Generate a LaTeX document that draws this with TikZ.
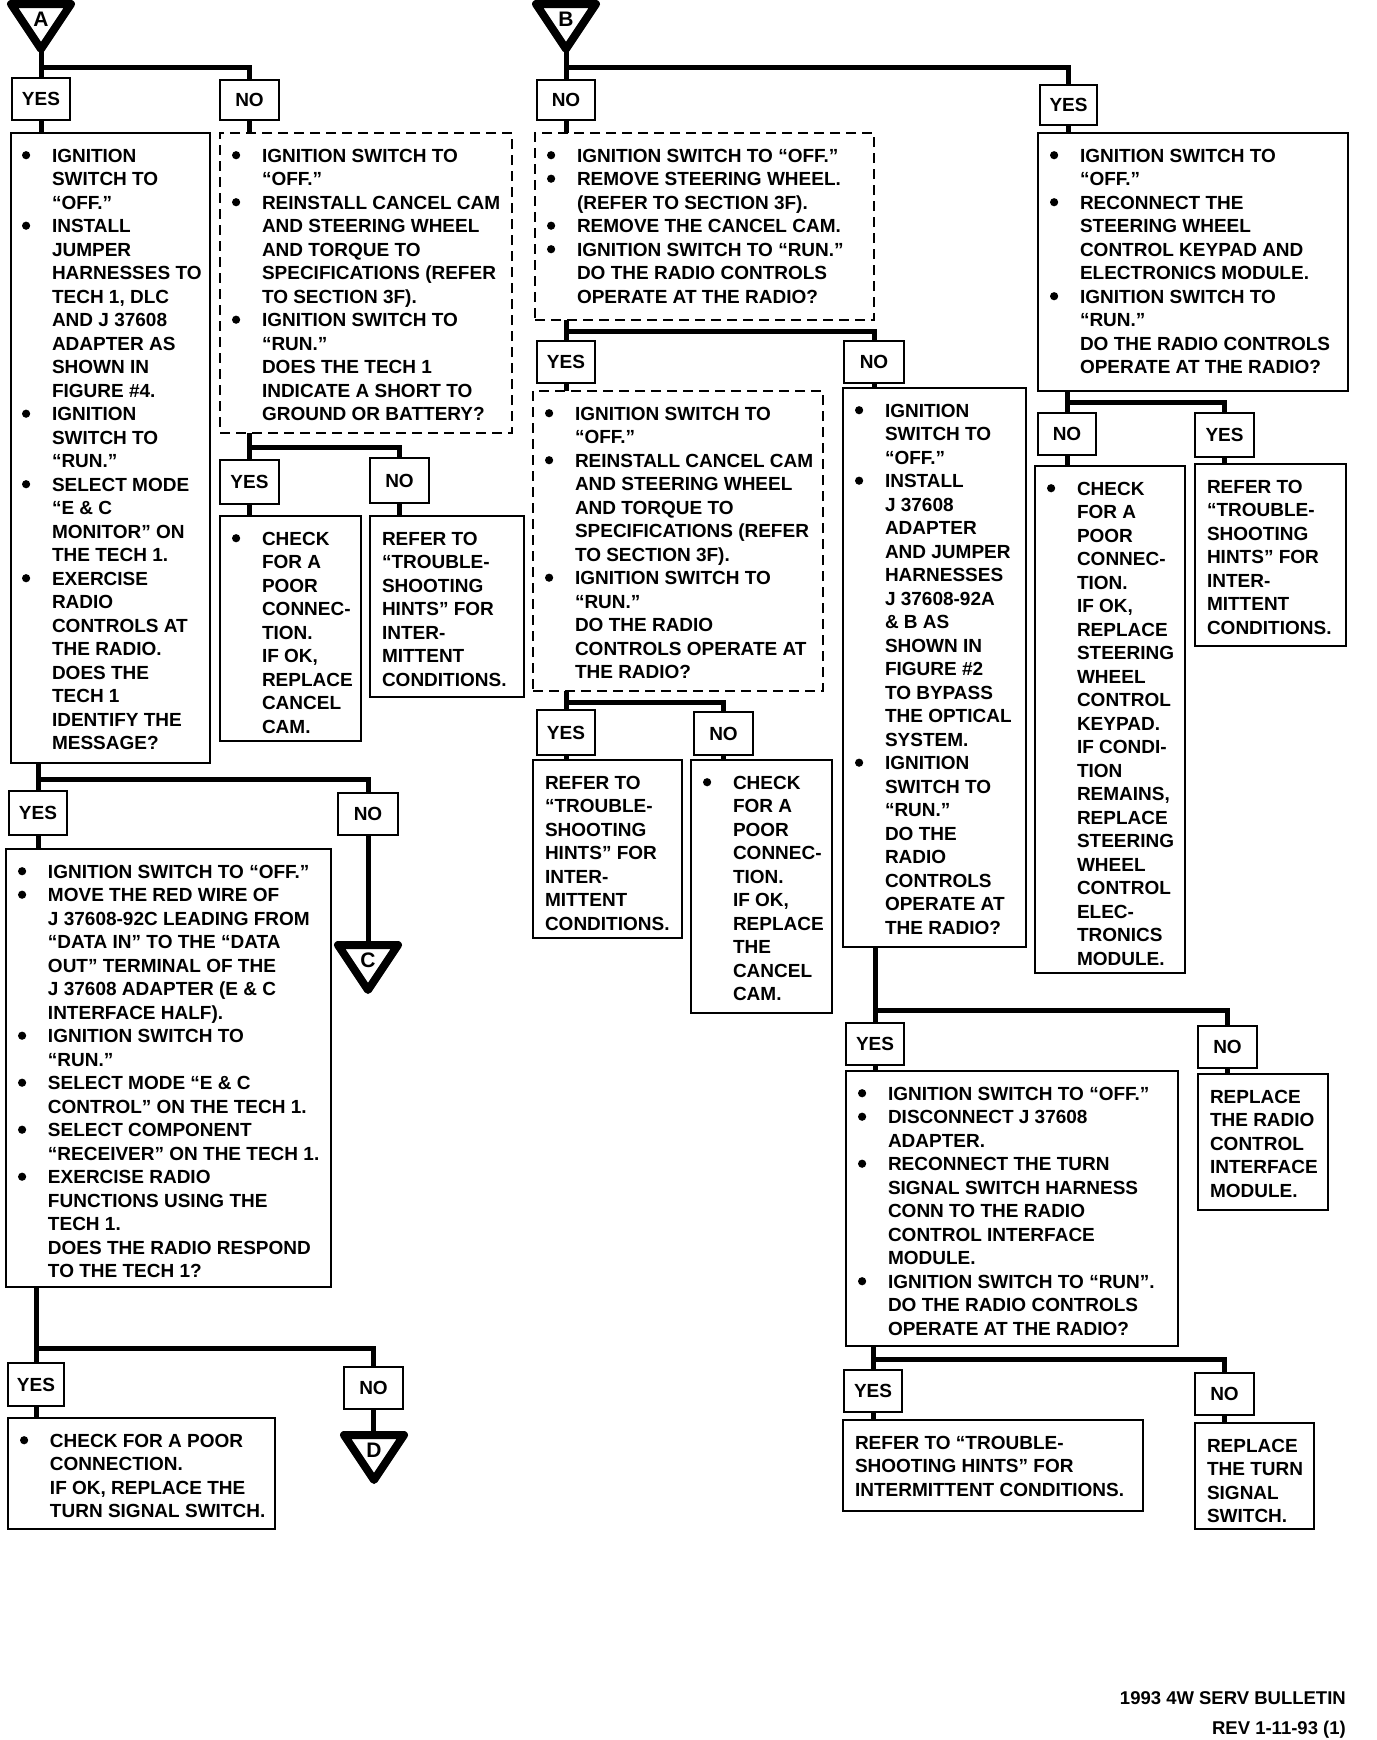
\documentclass[tikz,border=0pt]{standalone}
\usepackage{fontspec}
\setmainfont{Liberation Sans}
\newlength\bw \setlength\bw{32pt}
\newcommand\bu{\makebox[\bw][l]{\hspace{2pt}\tikz[baseline=0pt,x=1pt,y=1pt]\fill[black] (4,6.8) circle (4.1);}}
\newcommand\nb{\hspace*{\bw}}
\tikzset{
 box/.style={draw, line width=2.8pt, inner sep=0pt, outer sep=0pt, rectangle},
 dbox/.style={box, line width=2.3pt, dash pattern=on 10pt off 6pt},
 lbl/.style={box, font=\bfseries\fontsize{19}{23.5}\selectfont},
 txt/.style={inner sep=0pt, outer sep=0pt, anchor=base west, font=\bfseries\fontsize{19}{23.5}\selectfont},
 conn/.style={line width=5pt},
 tri/.style={line width=8pt, line join=round},
 trilet/.style={inner sep=0pt, font=\bfseries\fontsize{21}{21}\selectfont},
 foot/.style={inner sep=0pt, anchor=base east, font=\bfseries\fontsize{18.5}{22}\selectfont}
}
% \mkbox[style]{name}{x1}{y1}{x2}{y2}
\newcommand\mkbox[6][box]{\node[#1,minimum width={(#5-#3)*1pt},minimum height={(#6-#4)*1pt}] (#2) at ({(#3+#5)/2},{-(#4+#6)/2}) {};}
% \mklbl{name}{x1}{y1}{x2}{y2}{text}
\newcommand\mklbl[6]{\node[lbl,minimum width={(#4-#2)*1pt},minimum height={(#5-#3)*1pt}] (#1) at ({(#2+#4)/2},{-(#3+#5)/2}) {#6};}
% \mktxt{name}{box}{xoff}{lines}
\newcommand\mktxt[4]{\node[txt] (#1) at ([xshift=#3pt,yshift=-29pt]#2.north west) {\begin{tabular}[t]{@{}l@{}}#4\end{tabular}};}
% \mktri{name}{cx}{top}{letter}
\newcommand\mktri[4]{%
 \draw[tri] ({#2-30},{-(#3+4)}) -- ({#2+30},{-(#3+4)}) -- ({#2},{-(#3+49)}) -- cycle;
 \coordinate (#1top) at ({#2},{-(#3)});
 \coordinate (#1apex) at ({#2},{-(#3+49)});
 \node[trilet] (#1) at ({#2},{-(#3+19)}) {#4};}
\begin{document}
\begin{tikzpicture}[x=1pt,y=1pt]
\fill[white] (0,0) rectangle (1376,-1740);
\useasboundingbox (0,0) rectangle (1376,-1740);

% ---------------- column A ----------------
\mktri{triA}{41}{0}{A}
\coordinate (jA1) at (0,-67);
\mklbl{yesA1}{12}{78}{70}{120}{YES}
\mklbl{noA1}{220}{80}{279}{120}{NO}
\mkbox{boxA1}{11}{133}{210}{763}
\mkbox[dbox]{dashA}{220}{133}{512}{433}
\coordinate (jA2) at (0,-447);
\mklbl{yesA2}{220}{460}{279}{504}{YES}
\mklbl{noA2}{370}{458}{429}{503}{NO}
\mkbox{chkA}{220}{516}{361}{741}
\mkbox{refA}{370}{516}{524}{697}
\coordinate (jA3) at (0,-779);
\mklbl{yesA3}{9}{791}{67}{835}{YES}
\mklbl{noA3}{338}{793}{398}{835}{NO}
\mktri{triC}{368}{941}{C}
\mkbox{boxA2}{6}{849}{331}{1287}
\coordinate (jA4) at (0,-1348);
\mklbl{yesA4}{8}{1363}{64}{1406}{YES}
\mklbl{noA4}{344}{1367}{403}{1409}{NO}
\mktri{triD}{374}{1431}{D}
\mkbox{boxA3}{8}{1418}{275}{1529}

% ---------------- column B ----------------
\mktri{triB}{566}{0}{B}
\coordinate (jB1) at (0,-67);
\mklbl{noB1}{537}{80}{595}{120}{NO}
\mklbl{yesB1}{1040}{85}{1097}{125}{YES}
\mkbox[dbox]{dashB}{535}{133}{874}{320}
\mkbox{boxBY}{1038}{133}{1348}{391}
\coordinate (jB2) at (0,-331);
\mklbl{yesB2}{537}{341}{595}{383}{YES}
\mklbl{noB2}{844}{341}{904}{383}{NO}
\mkbox[dbox]{dashB2}{533}{391}{823}{691}
\mkbox{boxB3}{843}{388}{1026}{947}
\coordinate (jB3) at (0,-702);
\mklbl{yesB3}{537}{710}{595}{755}{YES}
\mklbl{noB3}{694}{712}{753}{755}{NO}
\mkbox{refB}{533}{760}{682}{938}
\mkbox{chkB}{691}{760}{832}{1013}
\coordinate (jB4) at (0,-1010);
\mklbl{yesB4}{846}{1023}{904}{1065}{YES}
\mklbl{noB4}{1198}{1026}{1257}{1068}{NO}
\mkbox{boxB4}{846}{1071}{1178}{1346}
\mkbox{repRC}{1198}{1074}{1328}{1210}
\coordinate (jB5) at (0,-1359);
\mklbl{yesB5}{844}{1370}{902}{1412}{YES}
\mklbl{noB5}{1195}{1373}{1254}{1415}{NO}
\mkbox{refB5}{843}{1420}{1143}{1511}
\mkbox{repTS}{1195}{1423}{1314}{1529}
\coordinate (jBY) at (0,-402);
\mklbl{noBY}{1038}{413}{1096}{455}{NO}
\mklbl{yesBY}{1195}{413}{1254}{457}{YES}
\mkbox{chkBY}{1035}{466}{1185}{973}
\mkbox{refBY}{1195}{464}{1346}{646}

% ---------------- texts ----------------
\mktxt{tA1}{boxA1}{9}{\bu IGNITION\\ \nb SWITCH TO\\ \nb “OFF.”\\ \bu INSTALL\\ \nb JUMPER\\ \nb HARNESSES TO\\ \nb TECH 1, DLC\\ \nb AND J 37608\\ \nb ADAPTER AS\\ \nb SHOWN IN\\ \nb FIGURE \#4.\\ \bu IGNITION\\ \nb SWITCH TO\\ \nb “RUN.”\\ \bu SELECT MODE\\ \nb “E \& C\\ \nb MONITOR” ON\\ \nb THE TECH 1.\\ \bu EXERCISE\\ \nb RADIO\\ \nb CONTROLS AT\\ \nb THE RADIO.\\ \nb DOES THE\\ \nb TECH 1\\ \nb IDENTIFY THE\\ \nb MESSAGE?}
\mktxt{tdashA}{dashA}{10}{\bu IGNITION SWITCH TO\\ \nb “OFF.”\\ \bu REINSTALL CANCEL CAM\\ \nb AND STEERING WHEEL\\ \nb AND TORQUE TO\\ \nb SPECIFICATIONS (REFER\\ \nb TO SECTION 3F).\\ \bu IGNITION SWITCH TO\\ \nb “RUN.”\\ \nb DOES THE TECH 1\\ \nb INDICATE A SHORT TO\\ \nb GROUND OR BATTERY?}
\mktxt{tchkA}{chkA}{10}{\bu CHECK\\ \nb FOR A\\ \nb POOR\\ \nb CONNEC-\\ \nb TION.\\ \nb IF OK,\\ \nb REPLACE\\ \nb CANCEL\\ \nb CAM.}
\mktxt{trefA}{refA}{12}{REFER TO\\ “TROUBLE-\\ SHOOTING\\ HINTS” FOR\\ INTER-\\ MITTENT\\ CONDITIONS.}
\mktxt{tA2}{boxA2}{10}{\bu IGNITION SWITCH TO “OFF.”\\ \bu MOVE THE RED WIRE OF\\ \nb J 37608-92C LEADING FROM\\ \nb “DATA IN” TO THE “DATA\\ \nb OUT” TERMINAL OF THE\\ \nb J 37608 ADAPTER (E \& C\\ \nb INTERFACE HALF).\\ \bu IGNITION SWITCH TO\\ \nb “RUN.”\\ \bu SELECT MODE “E \& C\\ \nb CONTROL” ON THE TECH 1.\\ \bu SELECT COMPONENT\\ \nb “RECEIVER” ON THE TECH 1.\\ \bu EXERCISE RADIO\\ \nb FUNCTIONS USING THE\\ \nb TECH 1.\\ \nb DOES THE RADIO RESPOND\\ \nb TO THE TECH 1?}
\mktxt{tA3}{boxA3}{10}{\bu CHECK FOR A POOR\\ \nb CONNECTION.\\ \nb IF OK, REPLACE THE\\ \nb TURN SIGNAL SWITCH.}
\mktxt{tdashB}{dashB}{10}{\bu IGNITION SWITCH TO “OFF.”\\ \bu REMOVE STEERING WHEEL.\\ \nb (REFER TO SECTION 3F).\\ \bu REMOVE THE CANCEL CAM.\\ \bu IGNITION SWITCH TO “RUN.”\\ \nb DO THE RADIO CONTROLS\\ \nb OPERATE AT THE RADIO?}
\mktxt{tBY}{boxBY}{10}{\bu IGNITION SWITCH TO\\ \nb “OFF.”\\ \bu RECONNECT THE\\ \nb STEERING WHEEL\\ \nb CONTROL KEYPAD AND\\ \nb ELECTRONICS MODULE.\\ \bu IGNITION SWITCH TO\\ \nb “RUN.”\\ \nb DO THE RADIO CONTROLS\\ \nb OPERATE AT THE RADIO?}
\mktxt{tdashB2}{dashB2}{10}{\bu IGNITION SWITCH TO\\ \nb “OFF.”\\ \bu REINSTALL CANCEL CAM\\ \nb AND STEERING WHEEL\\ \nb AND TORQUE TO\\ \nb SPECIFICATIONS (REFER\\ \nb TO SECTION 3F).\\ \bu IGNITION SWITCH TO\\ \nb “RUN.”\\ \nb DO THE RADIO\\ \nb CONTROLS OPERATE AT\\ \nb THE RADIO?}
\mktxt{tB3}{boxB3}{10}{\bu IGNITION\\ \nb SWITCH TO\\ \nb “OFF.”\\ \bu INSTALL\\ \nb J 37608\\ \nb ADAPTER\\ \nb AND JUMPER\\ \nb HARNESSES\\ \nb J 37608-92A\\ \nb \& B AS\\ \nb SHOWN IN\\ \nb FIGURE \#2\\ \nb TO BYPASS\\ \nb THE OPTICAL\\ \nb SYSTEM.\\ \bu IGNITION\\ \nb SWITCH TO\\ \nb “RUN.”\\ \nb DO THE\\ \nb RADIO\\ \nb CONTROLS\\ \nb OPERATE AT\\ \nb THE RADIO?}
\mktxt{trefB}{refB}{12}{REFER TO\\ “TROUBLE-\\ SHOOTING\\ HINTS” FOR\\ INTER-\\ MITTENT\\ CONDITIONS.}
\mktxt{tchkB}{chkB}{10}{\bu CHECK\\ \nb FOR A\\ \nb POOR\\ \nb CONNEC-\\ \nb TION.\\ \nb IF OK,\\ \nb REPLACE\\ \nb THE\\ \nb CANCEL\\ \nb CAM.}
\mktxt{tchkBY}{chkBY}{10}{\bu CHECK\\ \nb FOR A\\ \nb POOR\\ \nb CONNEC-\\ \nb TION.\\ \nb IF OK,\\ \nb REPLACE\\ \nb STEERING\\ \nb WHEEL\\ \nb CONTROL\\ \nb KEYPAD.\\ \nb IF CONDI-\\ \nb TION\\ \nb REMAINS,\\ \nb REPLACE\\ \nb STEERING\\ \nb WHEEL\\ \nb CONTROL\\ \nb ELEC-\\ \nb TRONICS\\ \nb MODULE.}
\mktxt{trefBY}{refBY}{12}{REFER TO\\ “TROUBLE-\\ SHOOTING\\ HINTS” FOR\\ INTER-\\ MITTENT\\ CONDITIONS.}
\mktxt{tB4}{boxB4}{10}{\bu IGNITION SWITCH TO “OFF.”\\ \bu DISCONNECT J 37608\\ \nb ADAPTER.\\ \bu RECONNECT THE TURN\\ \nb SIGNAL SWITCH HARNESS\\ \nb CONN TO THE RADIO\\ \nb CONTROL INTERFACE\\ \nb MODULE.\\ \bu IGNITION SWITCH TO “RUN”.\\ \nb DO THE RADIO CONTROLS\\ \nb OPERATE AT THE RADIO?}
\mktxt{trepRC}{repRC}{12}{REPLACE\\ THE RADIO\\ CONTROL\\ INTERFACE\\ MODULE.}
\mktxt{trefB5}{refB5}{12}{REFER TO “TROUBLE-\\ SHOOTING HINTS” FOR\\ INTERMITTENT CONDITIONS.}
\mktxt{trepTS}{repTS}{12}{REPLACE\\ THE TURN\\ SIGNAL\\ SWITCH.}

\node[foot] (ft1) at (1346,-1704) {1993 4W SERV BULLETIN};
\node[foot] (ft2) at (1346,-1734) {REV 1-11-93 (1)};

% ---------------- connectors A ----------------
\draw[conn] (triAapex) -- (yesA1.north);
\draw[conn] (jA1 -| triAapex) -| (noA1.north);
\draw[conn] (yesA1.south) -- (boxA1.north -| yesA1.south);
\draw[conn] (noA1.south) -- (dashA.north -| noA1.south);
\draw[conn] (dashA.south -| yesA2.north) -- (yesA2.north);
\draw[conn] (jA2 -| yesA2.north) -| (noA2.north);
\draw[conn] (yesA2.south) -- (chkA.north -| yesA2.south);
\draw[conn] (noA2.south) -- (refA.north -| noA2.south);
\draw[conn] (boxA1.south -| yesA3.north) -- (yesA3.north);
\draw[conn] (jA3 -| yesA3.north) -| (noA3.north);
\draw[conn] (yesA3.south) -- (boxA2.north -| yesA3.south);
\draw[conn] (noA3.south) -- (noA3.south |- triCtop);
\draw[conn] (boxA2.south -| yesA4.north) -- (yesA4.north);
\draw[conn] (jA4 -| yesA4.north) -| (noA4.north);
\draw[conn] (yesA4.south) -- (boxA3.north -| yesA4.south);
\draw[conn] (noA4.south) -- (noA4.south |- triDtop);

% ---------------- connectors B ----------------
\draw[conn] (triBapex) -- (noB1.north);
\draw[conn] (jB1 -| triBapex) -| (yesB1.north);
\draw[conn] (noB1.south) -- (dashB.north -| noB1.south);
\draw[conn] (yesB1.south) -- (boxBY.north -| yesB1.south);
\draw[conn] (dashB.south -| yesB2.north) -- (yesB2.north);
\draw[conn] (jB2 -| yesB2.north) -| (noB2.north);
\draw[conn] (yesB2.south) -- (dashB2.north -| yesB2.south);
\draw[conn] (noB2.south) -- (boxB3.north -| noB2.south);
\draw[conn] (dashB2.south -| yesB3.north) -- (yesB3.north);
\draw[conn] (jB3 -| yesB3.north) -| (noB3.north);
\draw[conn] (yesB3.south) -- (refB.north -| yesB3.south);
\draw[conn] (noB3.south) -- (chkB.north -| noB3.south);
\draw[conn] (boxB3.south -| yesB4.north) -- (yesB4.north);
\draw[conn] (jB4 -| yesB4.north) -| (noB4.north);
\draw[conn] (yesB4.south) -- (boxB4.north -| yesB4.south);
\draw[conn] (noB4.south) -- (repRC.north -| noB4.south);
\draw[conn] (boxB4.south -| yesB5.north) -- (yesB5.north);
\draw[conn] (jB5 -| yesB5.north) -| (noB5.north);
\draw[conn] (yesB5.south) -- (refB5.north -| yesB5.south);
\draw[conn] (noB5.south) -- (repTS.north -| noB5.south);
\draw[conn] (boxBY.south -| noBY.north) -- (noBY.north);
\draw[conn] (jBY -| noBY.north) -| (yesBY.north);
\draw[conn] (noBY.south) -- (chkBY.north -| noBY.south);
\draw[conn] (yesBY.south) -- (refBY.north -| yesBY.south);
\end{tikzpicture}
\end{document}
